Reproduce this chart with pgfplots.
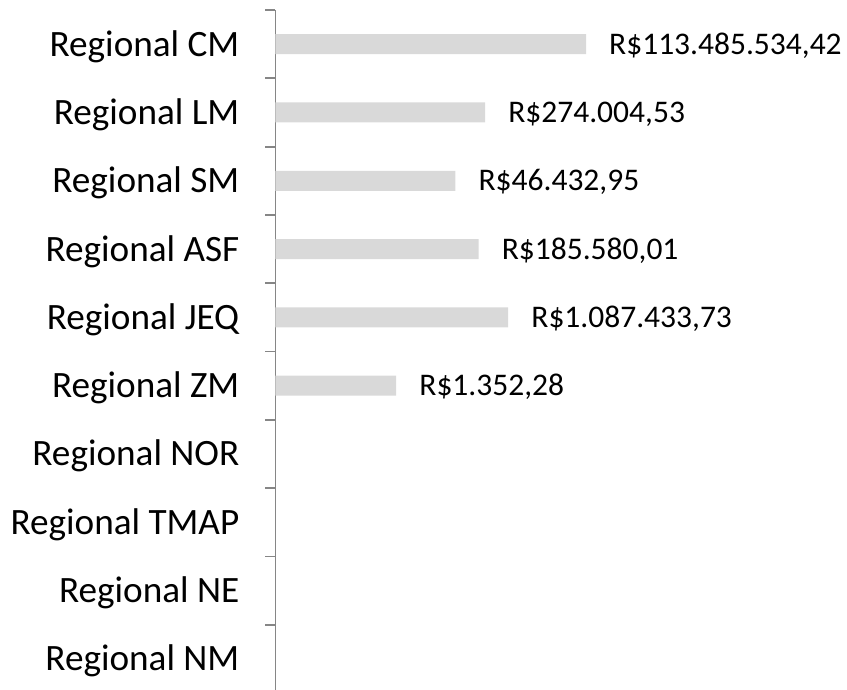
\documentclass[border=0pt]{standalone}
\usepackage{fontspec}
\setmainfont{Carlito}
\usepackage{pgfplots}
\usepackage{pgfplotstable}
\pgfplotsset{compat=1.18}
\definecolor{barc}{HTML}{D9D9D9}
\definecolor{axc}{HTML}{868686}
\pgfplotstableread{
i v lab
1 113485534.42 {R\$113.485.534,42}
2 274004.53 {R\$274.004,53}
3 46432.95 {R\$46.432,95}
4 185580.01 {R\$185.580,01}
5 1087433.73 {R\$1.087.433,73}
6 1352.28 {R\$1.352,28}
}\datatab
\begin{document}
\begin{tikzpicture}
\begin{axis}[
  name=ax,
  scale only axis,
  width=346.95bp, height=683bp,
  xmode=log, xmin=1, xmax=1e9,
  ymin=0.5, ymax=10.5, y dir=reverse,
  axis x line=none,
  axis y line*=left,
  y axis line style={-, draw=axc, line width=1.8bp},
  ytick={1,...,10},
  yticklabels={Regional CM,Regional LM,Regional SM,Regional ASF,Regional JEQ,Regional ZM,Regional NOR,Regional TMAP,Regional NE,Regional NM},
  minor ytick={0.5,1.5,...,10.5},
  major tick length=0pt,
  minor tick length=10bp,
  tick align=outside,
  ytick style={draw=axc, line width=1.8bp},
  yticklabel style={font=\fontsize{37.2bp}{40bp}\selectfont, anchor=base east, inner sep=0pt, xshift=-36bp, yshift=-12bp},
  xbar, bar width=20bp,
  clip=false,
  nodes near coords,
  point meta=explicit symbolic,
  every node near coord/.append style={font=\fontsize{31.5bp}{34bp}\selectfont, anchor=base west, inner sep=0pt, xshift=23bp, yshift=-10.1bp, text=black},
]
\addplot[draw=none, fill=barc] table[x=v, y=i, meta=lab] {\datatab};
\end{axis}
\pgfresetboundingbox
\path ([xshift=-275.5bp, yshift=10bp]ax.north west) rectangle ([xshift=571.5bp, yshift=3bp]ax.south west);
\end{tikzpicture}
\end{document}
